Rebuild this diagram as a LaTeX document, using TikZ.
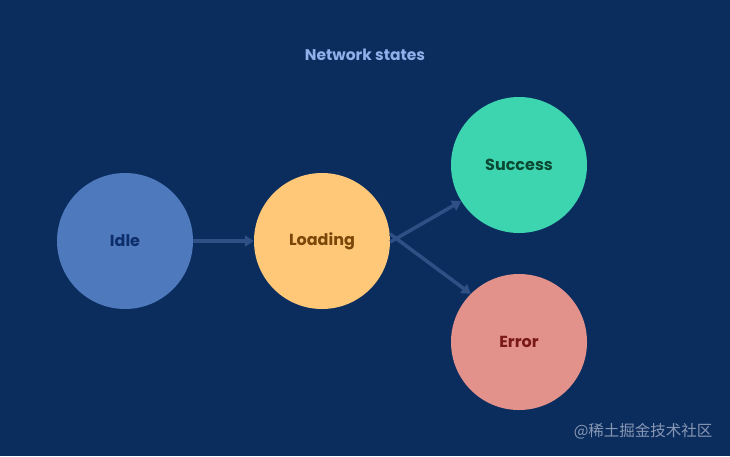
\documentclass[tikz,border=0pt]{standalone}
\usepackage{fontspec}
\setmainfont{Poppins}
\newfontfamily\cjkfont{Noto Sans CJK SC}
\usetikzlibrary{arrows.meta}

\definecolor{bgblue}{HTML}{0B2D5E}
\definecolor{titleblue}{HTML}{8FB0EA}
\definecolor{edgeblue}{HTML}{2E5085}
\definecolor{idlefill}{HTML}{4E79BD}
\definecolor{idletext}{HTML}{0E2D6B}
\definecolor{loadfill}{HTML}{FFC878}
\definecolor{loadtext}{HTML}{7A4708}
\definecolor{succfill}{HTML}{3DD5B0}
\definecolor{succtext}{HTML}{0B4A32}
\definecolor{errfill}{HTML}{E3928B}
\definecolor{errtext}{HTML}{7A1A16}
\definecolor{markgray}{HTML}{8797B3}

\tikzset{
  state/.style={circle, minimum size=136pt, inner sep=0pt,
    font=\fontsize{16}{18}\selectfont\bfseries},
  link/.style={draw=edgeblue, line width=3.5pt, -{Triangle[length=9pt,width=11pt]}}
}

\begin{document}
\begin{tikzpicture}[x=1pt,y=-1pt]

        % Background
        \fill[bgblue] (0,0) rectangle (730,456);
        \useasboundingbox (0,0) rectangle (730,456);

        % Title
        \node[text=titleblue, font=\fontsize{15.5}{18}\selectfont\bfseries] (title) at (365,55) {Network states};

        % States
        \node[state, fill=idlefill, text=idletext] (idle) at (125,241) {Idle};
        \node[state, fill=loadfill, text=loadtext] (load) at (322,241) {Loading};
        \node[state, fill=succfill, text=succtext] (succ) at (519,165) {Success};
        \node[state, fill=errfill, text=errtext] (err) at (519,342) {Error};

        % Transitions
        \draw[link] (idle.east) -- (load.west);
        \draw[link] ([yshift=-1pt]load.east) -- (succ.212);
        \draw[link] ([yshift=7pt]load.east) -- (err.135);

        % Watermark
        \node[text=markgray, anchor=east, font=\cjkfont\fontsize{15.5}{17}\selectfont] (mark) at (716,431) {@稀土掘金技术社区};

\end{tikzpicture}
\end{document}
